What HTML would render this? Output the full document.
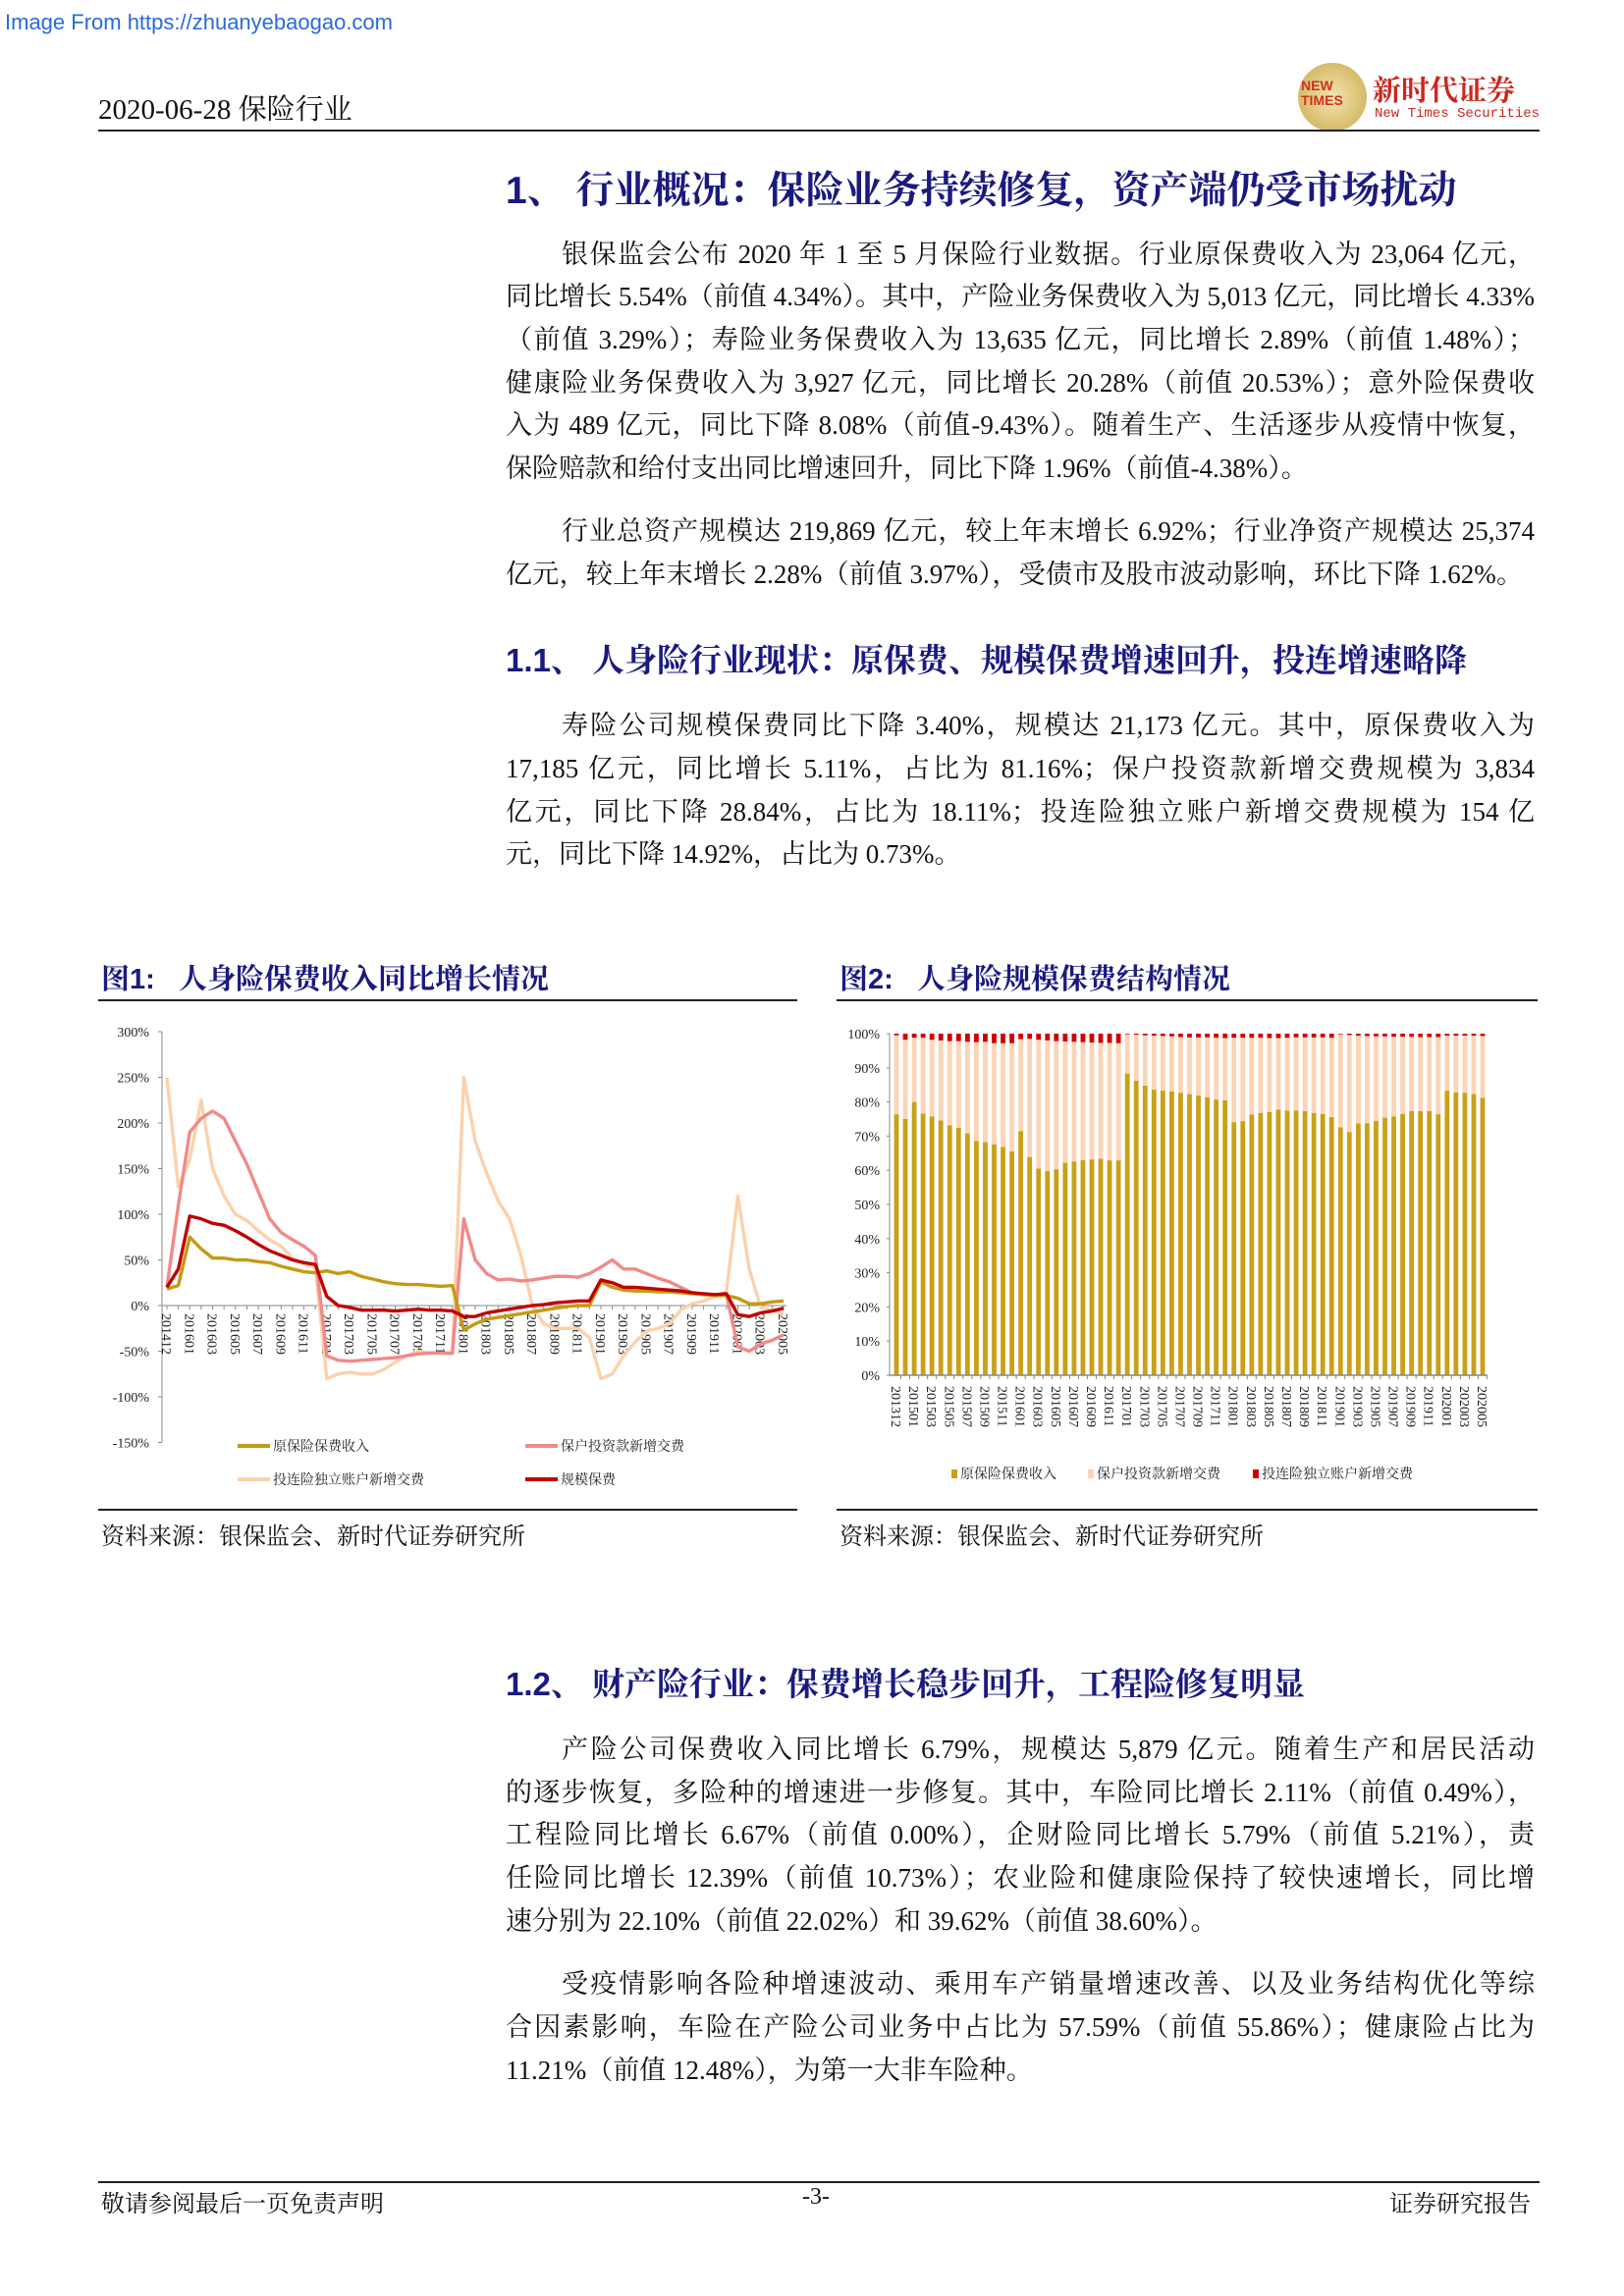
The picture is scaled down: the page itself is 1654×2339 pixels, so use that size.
<!DOCTYPE html>
<html><head><meta charset="utf-8">
<style>
html,body{margin:0;padding:0;background:#fff;}
#page{position:relative;width:1654px;height:2339px;overflow:hidden;background:#fff;font-family:"Liberation Serif","Noto Serif CJK SC",serif;color:#111;}
.abs{position:absolute;white-space:nowrap;}
.ln{position:absolute;font-size:27px;line-height:30px;height:30px;white-space:nowrap;text-align:justify;text-align-last:justify;}
.full{left:515px;width:1048px;}
.ind{left:572px;width:991px;}
.left{text-align:left;text-align-last:left;}
.h{position:absolute;left:515px;font-weight:bold;color:#1a1a7e;white-space:nowrap;font-family:"Liberation Sans","Noto Serif CJK SC",serif;}
.ct{position:absolute;font-weight:bold;color:#1a1a7e;font-size:29px;white-space:nowrap;font-family:"Liberation Sans","Noto Serif CJK SC",serif;}
.src{position:absolute;font-size:24px;white-space:nowrap;}
svg text{font-family:"Liberation Serif","Noto Serif CJK SC",serif;}
</style></head>
<body>
<div id="page">
<div class="abs" style="left:5px;top:10px;font-family:'Liberation Sans',sans-serif;font-size:22px;color:#2a6ad8;">Image From https://zhuanyebaogao.com</div>
<div class="abs" style="left:100px;top:89px;font-size:29px;">2020-06-28 保险行业</div>
<div style="position:absolute;left:1322px;top:64px;width:70px;height:70px;border-radius:50%;background:radial-gradient(circle,#f3e6b0,#c9a84a);"></div>
<div class="abs" style="left:1325px;top:80px;font-family:'Liberation Sans',sans-serif;font-size:14px;line-height:15px;color:#d03020;font-weight:bold;">NEW<br>TIMES</div>
<div class="abs" style="left:1398px;top:70px;font-size:29px;color:#c8281e;font-weight:bold;">新时代证券</div>
<div class="abs" style="left:1400px;top:108px;font-size:14px;color:#c8281e;font-family:'Liberation Mono',monospace;">New Times Securities</div>
<div style="position:absolute;left:100px;top:132px;width:1468px;height:2px;background:#222;"></div>

<div class="h" style="top:163px;font-size:39px;">1、 行业概况：保险业务持续修复，资产端仍受市场扰动</div>

<div class="ln ind" style="top:244px;">银保监会公布 2020 年 1 至 5 月保险行业数据。行业原保费收入为 23,064 亿元，</div>
<div class="ln full" style="top:287px;">同比增长 5.54%（前值 4.34%）。其中，产险业务保费收入为 5,013 亿元，同比增长 4.33%</div>
<div class="ln full" style="top:331px;">（前值 3.29%）；寿险业务保费收入为 13,635 亿元，同比增长 2.89%（前值 1.48%）；</div>
<div class="ln full" style="top:375px;">健康险业务保费收入为 3,927 亿元，同比增长 20.28%（前值 20.53%）；意外险保费收</div>
<div class="ln full" style="top:418px;">入为 489 亿元，同比下降 8.08%（前值-9.43%）。随着生产、生活逐步从疫情中恢复，</div>
<div class="ln full left" style="top:462px;">保险赔款和给付支出同比增速回升，同比下降 1.96%（前值-4.38%）。</div>

<div class="ln ind" style="top:526px;">行业总资产规模达 219,869 亿元，较上年末增长 6.92%；行业净资产规模达 25,374</div>
<div class="ln full" style="top:570px;width:1036px;">亿元，较上年末增长 2.28%（前值 3.97%），受债市及股市波动影响，环比下降 1.62%。</div>

<div class="h" style="top:647px;font-size:33px;">1.1、 人身险行业现状：原保费、规模保费增速回升，投连增速略降</div>

<div class="ln ind" style="top:724px;">寿险公司规模保费同比下降 3.40%，规模达 21,173 亿元。其中，原保费收入为</div>
<div class="ln full" style="top:768px;">17,185 亿元，同比增长 5.11%，占比为 81.16%；保户投资款新增交费规模为 3,834</div>
<div class="ln full" style="top:812px;">亿元，同比下降 28.84%，占比为 18.11%；投连险独立账户新增交费规模为 154 亿</div>
<div class="ln full left" style="top:855px;">元，同比下降 14.92%，占比为 0.73%。</div>

<div class="ct" style="left:103px;top:975px;">图1:&nbsp;&nbsp; 人身险保费收入同比增长情况</div>
<div style="position:absolute;left:100px;top:1018px;width:712px;height:2px;background:#222;"></div>
<div class="ct" style="left:855px;top:975px;">图2:&nbsp;&nbsp; 人身险规模保费结构情况</div>
<div style="position:absolute;left:852px;top:1018px;width:714px;height:2px;background:#222;"></div>

<svg id="chart1" style="position:absolute;left:98px;top:1040px;" width="720" height="495" viewBox="98 1040 720 495"></svg>
<svg id="chart2" style="position:absolute;left:850px;top:1040px;" width="720" height="495" viewBox="850 1040 720 495"></svg>

<div style="position:absolute;left:100px;top:1537px;width:712px;height:2px;background:#222;"></div>
<div style="position:absolute;left:852px;top:1537px;width:714px;height:2px;background:#222;"></div>
<div class="src" style="left:103px;top:1545px;">资料来源：银保监会、新时代证券研究所</div>
<div class="src" style="left:855px;top:1545px;">资料来源：银保监会、新时代证券研究所</div>

<div class="h" style="top:1690px;font-size:33px;">1.2、 财产险行业：保费增长稳步回升，工程险修复明显</div>

<div class="ln ind" style="top:1767px;">产险公司保费收入同比增长 6.79%，规模达 5,879 亿元。随着生产和居民活动</div>
<div class="ln full" style="top:1811px;">的逐步恢复，多险种的增速进一步修复。其中，车险同比增长 2.11%（前值 0.49%），</div>
<div class="ln full" style="top:1854px;">工程险同比增长 6.67%（前值 0.00%），企财险同比增长 5.79%（前值 5.21%），责</div>
<div class="ln full" style="top:1898px;">任险同比增长 12.39%（前值 10.73%）；农业险和健康险保持了较快速增长，同比增</div>
<div class="ln full left" style="top:1942px;">速分别为 22.10%（前值 22.02%）和 39.62%（前值 38.60%）。</div>

<div class="ln ind" style="top:2006px;">受疫情影响各险种增速波动、乘用车产销量增速改善、以及业务结构优化等综</div>
<div class="ln full" style="top:2050px;">合因素影响，车险在产险公司业务中占比为 57.59%（前值 55.86%）；健康险占比为</div>
<div class="ln full left" style="top:2094px;">11.21%（前值 12.48%），为第一大非车险种。</div>

<div style="position:absolute;left:100px;top:2222px;width:1468px;height:2px;background:#222;"></div>
<div class="src" style="left:103px;top:2225px;">敬请参阅最后一页免责声明</div>
<div class="src" style="left:817px;top:2225px;">-3-</div>
<div class="src" style="left:1415px;top:2225px;">证券研究报告</div>
</div>

<script>
// ---- Chart 1 data ----
const c1Categories = ["201412","201512","201601","201602","201603","201604","201605","201606","201607","201608","201609","201610","201611","201612","201701","201702","201703","201704","201705","201706","201707","201708","201709","201710","201711","201712","201801","201802","201803","201804","201805","201806","201807","201808","201809","201810","201811","201812","201901","201902","201903","201904","201905","201906","201907","201908","201909","201910","201911","201912","202001","202002","202003","202004","202005"];
const c1Original = [18,22,75,62,52,52,50,50,48,47,43,40,37,36,38,35,37,32,29,26,24,23,23,22,21,22,-27,-20,-15,-13,-11,-9,-7,-5,-3,-1,0,0,26,20,17,16,16,15,15,14,13,12,11,11,8,2,2,4,5];
const c1Invest = [20,110,190,205,213,205,180,155,125,95,80,72,65,55,-55,-60,-61,-60,-59,-58,-57,-55,-53,-52,-52,-52,95,50,35,28,29,27,28,30,32,32,31,35,42,50,40,40,35,30,26,20,14,12,12,12,-45,-50,-42,-38,-32];
const c1Linked = [250,130,160,225,150,120,100,93,82,72,65,52,45,42,-80,-75,-73,-75,-75,-70,-62,-55,-50,-52,-52,-53,250,180,145,115,95,55,0,-20,-25,-25,-25,-35,-80,-75,-55,-40,-28,-25,-20,-5,2,5,10,15,120,40,-2,-5,-10];
const c1Scale = [20,40,98,95,90,88,82,75,67,60,55,50,47,45,10,0,-2,-5,-5,-5,-6,-5,-4,-5,-5,-6,-12,-12,-8,-6,-4,-2,0,1,3,4,5,5,28,25,20,20,19,18,17,16,14,13,12,13,-10,-12,-8,-6,-3];
const c1YTicks = [300,250,200,150,100,50,0,-50,-100,-150];
const c1Legend = ["原保险保费收入","保户投资款新增交费","投连险独立账户新增交费","规模保费"];

// ---- Chart 2 data ----
const c2Categories = ["201312","201412","201501","201502","201503","201504","201505","201506","201507","201508","201509","201510","201511","201512","201601","201602","201603","201604","201605","201606","201607","201608","201609","201610","201611","201612","201701","201702","201703","201704","201705","201706","201707","201708","201709","201710","201711","201712","201801","201802","201803","201804","201805","201806","201807","201808","201809","201810","201811","201812","201901","201902","201903","201904","201905","201906","201907","201908","201909","201910","201911","201912","202001","202002","202003","202004","202005"];
const c2Original = [76.4,75,80,76.6,75.8,74.6,73.2,72.5,70.8,68.6,68.3,67.6,66.8,65.5,71.5,63.9,60.5,59.8,60.3,62.2,62.6,63,63.2,63.4,62.9,62.9,88.3,86.2,84.8,83.6,83.3,83.1,82.7,82.3,81.9,81.4,80.7,80.5,74.1,74.4,76.3,76.8,77.1,77.8,77.5,77.5,77.3,76.8,76.5,75.6,72.6,71.2,73.7,73.8,74.5,75.4,75.8,76.5,77.3,77.3,77.3,76.4,83.3,82.8,82.7,82.3,81.2];
const c2Linked = [0.5,1.8,1.2,1.2,1.8,2,2.2,2.2,2.4,2.5,2.4,2.8,2.8,2.8,1.6,1.5,1.8,2,2.2,2.3,2.4,2.5,2.6,2.7,2.7,2.8,0.2,0.3,0.5,0.6,0.7,0.8,1,1.1,1.1,1.1,1.2,1.3,1.2,1.2,1.2,1.2,1.3,1.3,1.2,1.1,1.1,1.1,1.1,1.2,0.2,0.4,0.6,0.7,0.8,0.8,0.9,0.9,0.9,1,1,1,0.6,0.6,0.6,0.6,0.7];
const c2YTicks = [0,10,20,30,40,50,60,70,80,90,100];
const c2Legend = ["原保险保费收入","保户投资款新增交费","投连险独立账户新增交费"];

const NS = "http://www.w3.org/2000/svg";
function mk(parent, tag, attrs){
  const e = document.createElementNS(NS, tag);
  for (const k in attrs) e.setAttribute(k, attrs[k]);
  parent.appendChild(e);
  return e;
}

// ---------- Chart 1 ----------
(function(){
  const svg = document.getElementById('chart1');
  const axL = 165, x0 = 170, x1 = 798, yZero = 1330, pxPer = 0.93;
  const x = i => x0 + i * (x1 - x0) / (c1Categories.length - 1);
  const y = v => yZero - v * pxPer;
  const axisY = mk(svg, 'line', {x1:axL, y1:y(300), x2:axL, y2:y(-150), stroke:'#888', 'stroke-width':1});
  
  
  c1YTicks.forEach(t => {
    const tk = mk(svg, 'line', {x1:axL-4, y1:y(t), x2:axL, y2:y(t), stroke:'#888'});
    
    
    const lb = mk(svg, 'text', {x:152, y:y(t)+5, 'text-anchor':'end', 'font-size':14, fill:'#222'});
    lb.textContent = t + '%';
    
    
  });
  const axisX = mk(svg, 'line', {x1:axL, y1:yZero, x2:801, y2:yZero, stroke:'#888', 'stroke-width':1});
  
  
  c1Categories.forEach((c, i) => {
    const tk = mk(svg, 'line', {x1:x(i), y1:yZero, x2:x(i), y2:yZero+4, stroke:'#888'});
    
    
    if (i % 2 === 0) {
      const lb = mk(svg, 'text', {x:0, y:0, 'font-size':14, fill:'#222', transform:`translate(${x(i)-5},${yZero+8}) rotate(90)`});
      lb.textContent = c;
      
      
    }
  });
  const series = [
    {d:c1Original, c:'#c59a12', n:'chart1-line-original-premium'},
    {d:c1Invest, c:'#f08a8a', n:'chart1-line-investment-deposit'},
    {d:c1Linked, c:'#fbd1ac', n:'chart1-line-unit-linked'},
    {d:c1Scale, c:'#c00000', n:'chart1-line-scale-premium'}
  ];
  [2,1,0,3].forEach(k => {
    const s = series[k];
    const p = mk(svg, 'polyline', {points:s.d.map((v,i)=>x(i)+','+y(v)).join(' '), fill:'none', stroke:s.c, 'stroke-width':3.4, 'stroke-linejoin':'round'});
    
    
  });
  const lpos = [[242,1473],[535,1473],[242,1507],[535,1507]];
  c1Legend.forEach((t, k) => {
    const [lx, ly] = lpos[k];
    const ln = mk(svg, 'line', {x1:lx, y1:ly, x2:lx+33, y2:ly, stroke:series[k].c, 'stroke-width':4});
    
    
    const tx = mk(svg, 'text', {x:lx+36, y:ly+5, 'font-size':14, fill:'#222'});
    tx.textContent = t;
    
    
  });
})();

// ---------- Chart 2 ----------
(function(){
  const svg = document.getElementById('chart2');
  const axL = 906, x0 = 913, x1 = 1510, yZero = 1401, pxPer = 3.48, bw = 4.8;
  const x = i => x0 + i * (x1 - x0) / (c2Categories.length - 1);
  const y = v => yZero - v * pxPer;
  const axisY = mk(svg, 'line', {x1:axL, y1:y(100), x2:axL, y2:yZero, stroke:'#888'});
  
  
  c2YTicks.forEach(t => {
    const tk = mk(svg, 'line', {x1:axL-3, y1:y(t), x2:axL, y2:y(t), stroke:'#888'});
    
    
    const lb = mk(svg, 'text', {x:896, y:y(t)+5, 'text-anchor':'end', 'font-size':14, fill:'#222'});
    lb.textContent = t + '%';
    
    
  });
  c2Categories.forEach((c, i) => {
    const o = c2Original[i], r = c2Linked[i], inv = 100 - o - r;
    const b1 = mk(svg, 'rect', {x:x(i)-bw/2, y:y(o), width:bw, height:o*pxPer, fill:'#c9a018'});
    
    
    const b2 = mk(svg, 'rect', {x:x(i)-bw/2, y:y(o+inv), width:bw, height:inv*pxPer, fill:'#fbd5b7'});
    
    
    const b3 = mk(svg, 'rect', {x:x(i)-bw/2, y:y(100), width:bw, height:r*pxPer, fill:'#d00000'});
    
    
    if (i % 2 === 0) {
      const lb = mk(svg, 'text', {x:0, y:0, 'font-size':14, fill:'#222', transform:`translate(${x(i)-5},${yZero+11}) rotate(90)`});
      lb.textContent = c;
      
      
    }
    const tk = mk(svg, 'line', {x1:x(i)+4.5, y1:yZero, x2:x(i)+4.5, y2:yZero+4, stroke:'#888'});
    
    
  });
  const axisX = mk(svg, 'line', {x1:axL, y1:yZero, x2:1515, y2:yZero, stroke:'#888', 'stroke-width':1.5});
  
  
  const cols = ['#c9a018','#fbd5b7','#d00000'];
  const lx = [969,1108,1276];
  c2Legend.forEach((t, k) => {
    const sw = mk(svg, 'rect', {x:lx[k], y:1497, width:6, height:9, fill:cols[k]});
    
    
    const tx = mk(svg, 'text', {x:lx[k]+9, y:1506, 'font-size':14, fill:'#222'});
    tx.textContent = t;
    
    
  });
})();
</script>
</body></html>
